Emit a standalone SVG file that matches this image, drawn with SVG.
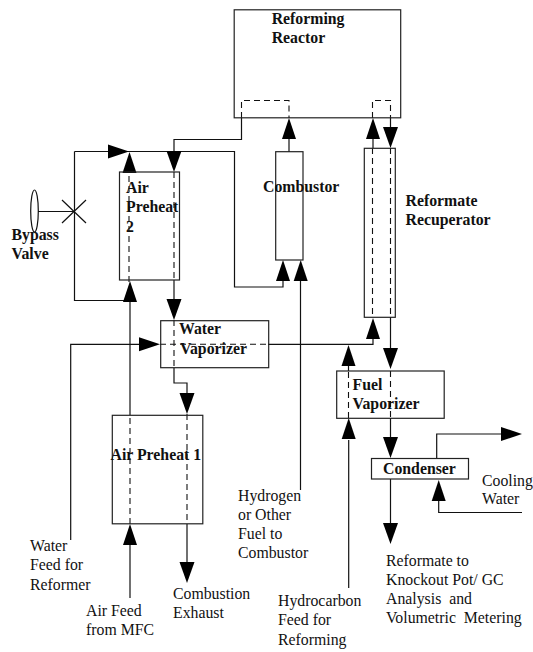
<svg xmlns="http://www.w3.org/2000/svg" width="533" height="652" viewBox="0 0 533 652">
<style>
.b{fill:none;stroke:#222;stroke-width:1.2}
.c{fill:none;stroke:#111;stroke-width:1.2}
.d{fill:none;stroke:#111;stroke-width:1.1;stroke-dasharray:6 4}
.h{fill:#000;stroke:none}
text{font-family:"Liberation Serif","Times New Roman",serif;font-size:15.8px;fill:#111;white-space:pre}
.t{font-weight:bold}
</style>
<defs>
<polygon id="u" class="h" points="0,0 7,21 -7,21"/>
<polygon id="n" class="h" points="0,0 7.5,-21 -7.5,-21"/>
<polygon id="r" class="h" points="0,0 -21,7 -21,-7"/>
</defs>
<rect width="533" height="652" fill="#fff"/>
<g id="connectors">
<path class="c" d="M241.500 118V139.500H174V152"/>
<path class="d" d="M241.500 118V100.500H289V118"/>
<path class="d" d="M174 172V280"/>
<path class="c" d="M174 280V299"/>
<path class="d" d="M174 320V368"/>
<path class="c" d="M174 368V383H187V394"/>
<path class="d" d="M187 414V524"/>
<path class="c" d="M187 524V563"/>
<path class="c" d="M130 598V544"/>
<path class="d" d="M130 524V415"/>
<path class="c" d="M130 415V300"/>
<path class="d" d="M129 282V172"/>
<path class="c" d="M74.500 151.500H234.500V287H283V280"/>
<path class="c" d="M74.500 151.500V300.500H125"/>
<path class="c" d="M289 152V139"/>
<path class="c" d="M300.500 490V280"/>
<path class="c" d="M373 148V139"/>
<path class="d" d="M372.500 118V100.500H390.500V118"/>
<path class="c" d="M390.500 118V128"/>
<path class="d" d="M372.500 148V317"/>
<path class="d" d="M390.500 148V317"/>
<path class="c" d="M390.500 317V349"/>
<path class="d" d="M390.500 371V418"/>
<path class="c" d="M390.500 418V437"/>
<path class="c" d="M390.500 479V524"/>
<path class="c" d="M436.700 458V434H501"/>
<path class="c" d="M522 512.500H438.700V500"/>
<path class="c" d="M70.700 540V344.300H140"/>
<path class="d" d="M160 344.300H268"/>
<path class="c" d="M268 344.300H373V339"/>
<path class="c" d="M348.700 588V440"/>
<path class="d" d="M348.500 418V371"/>
<path class="c" d="M348.500 371V366"/>
<path class="c" d="M38 211.500H74"/>
<path class="c" d="M62 200L86 223M62 223L86 200"/>
<ellipse class="c" cx="34.500" cy="211" rx="3.800" ry="21"/>
<use href="#n" x="174" y="172"/>
<use href="#n" x="174" y="320"/>
<use href="#n" x="187" y="414"/>
<use href="#n" x="187" y="583"/>
<use href="#n" x="390.500" y="148"/>
<use href="#n" x="390.500" y="369"/>
<use href="#n" x="390.500" y="458"/>
<use href="#n" x="390.500" y="544"/>
<use href="#u" x="129.500" y="152"/>
<use href="#u" x="130" y="281"/>
<use href="#u" x="130" y="524"/>
<use href="#u" x="289" y="118"/>
<use href="#u" x="283" y="260"/>
<use href="#u" x="300.700" y="260"/>
<use href="#u" x="373" y="118"/>
<use href="#u" x="373" y="318"/>
<use href="#u" x="348.500" y="345"/>
<use href="#u" x="348.700" y="418"/>
<use href="#u" x="438.700" y="480"/>
<use href="#r" x="129" y="151.500"/>
<use href="#r" x="160" y="344.300"/>
<use href="#r" x="522" y="434"/>
</g>
<g id="reforming-reactor"><rect class="b" x="234.200" y="9.800" width="166.500" height="108"/><text class="t" x="271.700" y="24">Reforming</text><text class="t" x="271.700" y="42.800">Reactor</text></g>
<g id="air-preheat-2"><rect class="b" x="119.500" y="172" width="60" height="108"/><text class="t" x="126" y="192.500">Air</text><text class="t" x="126" y="211.500">Preheat</text><text class="t" x="126" y="231.500">2</text></g>
<g id="combustor"><rect class="b" x="275.700" y="151.700" width="27.300" height="108.300"/><text class="t" x="263" y="191.500">Combustor</text></g>
<g id="reformate-recuperator"><rect class="b" x="364.300" y="148.300" width="31" height="169"/><text class="t" x="405.500" y="205.500">Reformate</text><text class="t" x="405.500" y="224.500">Recuperator</text></g>
<g id="bypass-valve"><text class="t" x="11.500" y="240">Bypass</text><text class="t" x="11.500" y="259">Valve</text></g>
<g id="water-vaporizer"><rect class="b" x="160.700" y="320.700" width="108" height="47"/><text class="t" x="179" y="334">Water</text><text class="t" x="180" y="353.500">Vaporizer</text></g>
<g id="air-preheat-1"><rect class="b" x="112.300" y="415.300" width="90.500" height="108.500"/><text class="t" x="110.500" y="460">Air Preheat 1</text></g>
<g id="fuel-vaporizer"><rect class="b" x="336.700" y="371" width="107.500" height="47.300"/><text class="t" x="352.500" y="390">Fuel</text><text class="t" x="352.500" y="409">Vaporizer</text></g>
<g id="condenser"><rect class="b" x="371.500" y="458.500" width="97" height="20.500"/><text class="t" x="383" y="474">Condenser</text></g>
<g id="labels">
<text x="30" y="551">Water</text><text x="30" y="570">Feed for</text><text x="30" y="590">Reformer</text>
<text x="86" y="616">Air Feed</text><text x="86" y="635">from MFC</text>
<text x="173" y="599">Combustion</text><text x="173" y="618">Exhaust</text>
<text x="238" y="501">Hydrogen</text><text x="238" y="520">or Other</text><text x="238" y="539">Fuel to</text><text x="238" y="558">Combustor</text>
<text x="278" y="606">Hydrocarbon</text><text x="278" y="625">Feed for</text><text x="278" y="645">Reforming</text>
<text x="386" y="566">Reformate to</text><text x="386" y="585">Knockout Pot/ GC</text><text x="386" y="604">Analysis  and</text><text x="386" y="623">Volumetric  Metering</text>
<text x="482" y="486">Cooling</text><text x="482" y="504">Water</text>
</g>
</svg>
